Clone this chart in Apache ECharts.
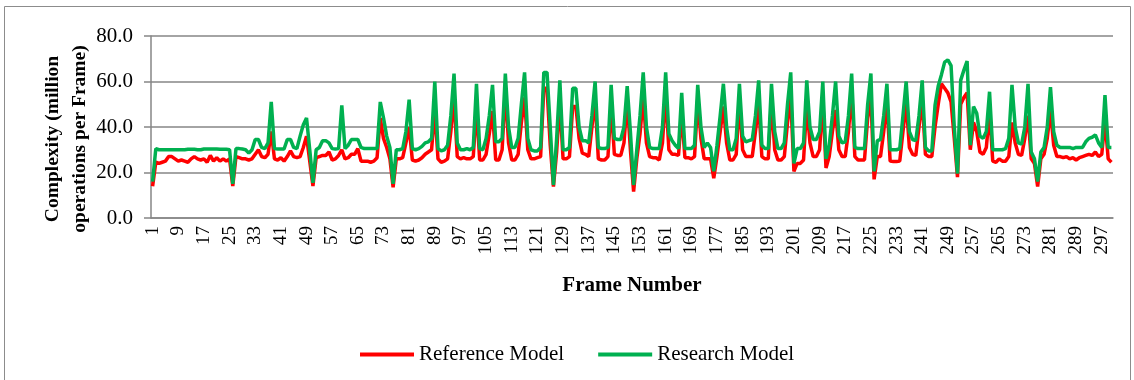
<!DOCTYPE html>
<html>
<head>
<meta charset="utf-8">
<script src="https://cdn.jsdelivr.net/npm/echarts@6/dist/echarts.min.js"></script>
<style>
  html, body { margin: 0; padding: 0; background: #fff; }
  #chart { width: 1134px; height: 380px; }
</style>
</head>
<body>
<div id="chart"></div>
<script>
// frame numbers 1..300
const frames = [];
for (let i = 1; i <= 300; i++) frames.push(String(i));

const yTicks = [0, 20, 40, 60, 80];

// Reference Model (red) per frame
const referenceModel = [
  14, 24.5, 24, 24.5, 25, 27, 27, 26, 25, 25.5,
  25, 24.5, 26, 27, 26, 25.5, 26, 24.5, 27.5, 25,
  26.5, 25, 26, 25, 26, 14, 27, 26.5, 26, 26,
  25.5, 26, 28, 30, 27, 26.5, 28, 38, 26, 25.5,
  26.5, 25, 27, 29.5, 27, 26.5, 27, 31, 36, 25,
  14, 26.5, 27, 27.5, 27.5, 29, 25.5, 26, 27.5, 30,
  26, 26.5, 28, 28, 30.5, 25, 25, 25, 24.5, 25,
  26.5, 44, 35, 31, 26, 13.5, 26, 26, 26.5, 33,
  40, 25.5, 25, 25.5, 26.5, 28, 29, 30, 48, 26,
  24.5, 25, 26, 38, 53, 27, 26, 26.5, 26, 26,
  27, 49, 25.5, 25.5, 28, 37, 47, 25.5, 25.5, 30,
  57, 33, 25.5, 25.5, 28, 42, 53, 30, 26, 26,
  26.5, 27, 57, 57, 32, 13.8, 29, 51.5, 26, 26,
  27, 49, 49, 35, 28.5, 28, 27, 40, 52, 26,
  25.5, 25.5, 27, 50, 28, 27.5, 27.5, 33, 52, 30,
  11.6, 26, 37, 53, 33, 27, 26.5, 26.5, 25.5, 33,
  55, 30, 28, 28, 27.5, 46, 26.5, 26.5, 26, 27,
  52.5, 35, 26, 26, 26, 17.5, 27, 38, 49, 33,
  25.5, 25.5, 28, 52, 30, 27, 27, 27, 38, 50,
  27, 26, 26, 52, 30, 25.5, 25.5, 27, 42, 53,
  20.5, 24, 24, 25.5, 50, 33, 27, 27, 30, 52,
  22, 27, 38, 47.5, 30, 27, 27, 38, 56, 27,
  25.5, 25.5, 25.5, 44, 53, 17, 27, 27, 38, 51,
  25, 24.8, 24.8, 25, 38, 51, 31, 28, 27.5, 40,
  52.5, 28, 27, 27, 40, 50, 59, 57, 55, 51,
  35, 18, 50, 53, 55, 30, 42, 38, 29, 28,
  31, 47, 25, 24.5, 26, 25, 25, 27, 42, 33,
  28, 27.5, 35, 45, 26, 24, 13.8, 26, 28, 35,
  47.5, 32, 27, 27, 26.5, 27, 26, 26.5, 25.5, 26.5,
  27, 27.5, 28, 27.5, 29, 27, 28, 43, 26, 24.5
];

// Research Model (green)
const researchModel = [
  16, 30.5, 30, 30, 30, 30, 30, 30, 30, 30,
  30, 30.2, 30.2, 30.2, 30, 30, 30.3, 30.3, 30.3, 30.3,
  30.3, 30.2, 30.2, 30.2, 30, 15, 30.5, 30.5, 30.3, 30,
  28.5, 30, 34.5, 34.5, 31, 30.5, 33, 51, 30.5, 30.3,
  30.3, 30.3, 34.5, 34.5, 31, 30.5, 36, 41, 44, 30,
  15.5, 30, 31, 34, 34, 33, 30.5, 30.3, 30.5, 49.5,
  30.5, 32, 34.5, 34.5, 34.5, 31, 30.5, 30.5, 30.5, 30.5,
  30.5, 51, 44, 36, 31, 15, 30, 30, 30.5, 38,
  52, 30.5, 30, 30.5, 31.5, 33, 33.5, 35, 60, 30.5,
  29.5, 30, 32, 45, 63.5, 33, 30, 30, 30.5, 30,
  31, 59, 30.5, 30, 35, 45, 58.5, 33.5, 33.5, 35,
  63.5, 40, 31, 31, 35, 50, 64, 35, 30, 29.5,
  29.5, 31, 64, 64, 40, 14.5, 35, 60.5, 30, 30,
  31, 57, 57, 40, 34, 34, 33, 45, 60, 31,
  30.5, 30.5, 31, 58.5, 35, 34.5, 34.5, 40, 58, 38,
  14.5, 30, 45, 64, 40, 31, 30.5, 30.5, 30.5, 40,
  64, 37, 34, 32, 30.5, 55, 30.5, 30.5, 30.5, 32,
  58.5, 40, 31, 33, 31, 20.5, 32, 45, 59, 40,
  30, 30, 35, 59, 36, 33.5, 34, 34.5, 45, 60.5,
  32, 30.5, 30.5, 59, 38, 30.5, 30.5, 33, 50, 64,
  24, 30.5, 30.5, 33, 60.5, 40, 34.5, 34.5, 38, 60,
  26, 32, 45, 60, 36, 33, 33.5, 45, 63.5, 31,
  30.5, 30.5, 30.5, 50, 63.5, 20.5, 34, 34.5, 45, 59,
  30, 30, 30, 30.5, 45, 60, 38, 34.5, 34, 45,
  60.5, 31, 29.5, 29.5, 49.5, 58, 63, 68.5, 69.5, 67,
  40, 19.5, 60.5, 65, 69, 32, 49, 46, 36, 35,
  38, 55.5, 30, 30, 30, 30, 30.5, 35, 58.5, 40,
  33, 32.5, 40, 59, 29, 26, 16, 29, 31, 40,
  57.5, 38, 32, 31, 31, 31, 31, 30.5, 31, 31,
  31, 33.5, 35, 35.5, 36.5, 33, 31, 54, 31, 31
];

const serif = '"Liberation Serif", "Times New Roman", serif';
const grey = '#868686';

const chart = echarts.init(document.getElementById('chart'));

const option = {
  animation: false,
  backgroundColor: '#fff',
  color: ['#ff0000', '#00b050'],
  graphic: [
    {
      type: 'rect',
      shape: { x: 4.5, y: 6.5, width: 1126, height: 390 },
      style: { fill: 'none', stroke: '#8c8c8c', lineWidth: 1 },
      silent: true
    },
    // y-axis title, centred a little below the plot middle like the original
    {
      type: 'text',
      x: 66,
      y: 139,
      rotation: Math.PI / 2,
      style: {
        text: 'Complexity (million\noperations per Frame)',
        font: 'bold 19.5px ' + serif,
        fill: '#000',
        align: 'center',
        verticalAlign: 'middle',
        lineHeight: 27
      },
      silent: true
    }
  ],
  grid: { left: 151, right: 21, top: 36, bottom: 162, containLabel: false },
  legend: {
    left: 355,
    top: 339,
    icon: 'rect',
    itemWidth: 54,
    itemHeight: 4,
    itemGap: 34,
    textStyle: { fontFamily: serif, fontSize: 21, color: '#000' },
    data: ['Reference Model', 'Research Model']
  },
  xAxis: {
    type: 'category',
    data: frames,
    boundaryGap: true,
    name: 'Frame Number',
    nameLocation: 'middle',
    nameGap: 57,
    nameTextStyle: { fontFamily: serif, fontSize: 21, fontWeight: 'bold', color: '#000' },
    axisLine: { lineStyle: { color: grey, width: 1.5 } },
    axisTick: { interval: 0, length: 5, lineStyle: { color: grey } },
    axisLabel: {
      interval: 7,
      rotate: 90,
      margin: 8,
      fontFamily: serif,
      fontSize: 19,
      color: '#000'
    },
    splitLine: { show: false }
  },
  yAxis: {
    type: 'value',
    min: yTicks[0],
    max: yTicks[yTicks.length - 1],
    interval: 20,
    axisLine: { show: true, lineStyle: { color: grey, width: 1.5 } },
    axisTick: { show: true, length: 7, lineStyle: { color: grey, width: 1.5 } },
    axisLabel: {
      formatter: (v) => v.toFixed(1),
      margin: 18,
      fontFamily: serif,
      fontSize: 21,
      color: '#000'
    },
    splitLine: { lineStyle: { color: grey, width: 1.5 } }
  },
  series: [
    {
      name: 'Reference Model',
      type: 'line',
      data: referenceModel,
      showSymbol: false,
      symbol: 'none',
      lineStyle: { width: 3.5, color: '#ff0000' }
    },
    {
      name: 'Research Model',
      type: 'line',
      data: researchModel,
      showSymbol: false,
      symbol: 'none',
      lineStyle: { width: 3.5, color: '#00b050' }
    }
  ]
};

chart.setOption(option);
</script>
</body>
</html>
